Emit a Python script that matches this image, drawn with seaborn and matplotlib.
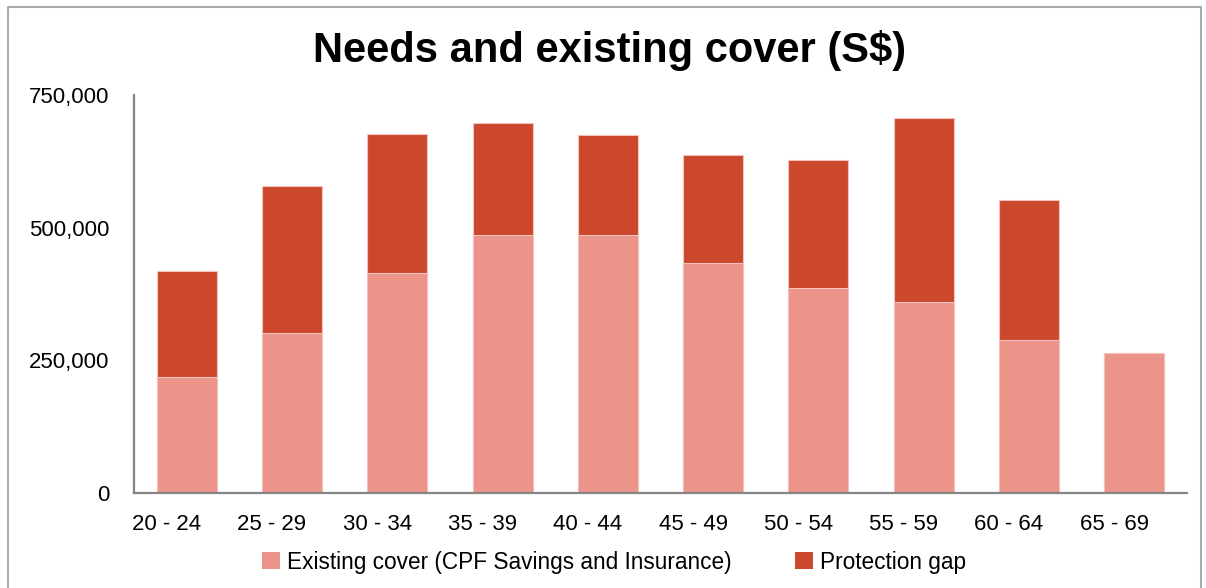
import matplotlib
matplotlib.use("Agg")
import matplotlib.pyplot as plt
import matplotlib.transforms as mtransforms
from matplotlib.patches import Patch
from matplotlib.lines import Line2D
from matplotlib.ticker import FuncFormatter
import pandas as pd
import seaborn as sns

# data
age_bands = ["20 - 24", "25 - 29", "30 - 34", "35 - 39", "40 - 44",
             "45 - 49", "50 - 54", "55 - 59", "60 - 64", "65 - 69"]
existing_cover = [218000, 301000, 414000, 487000, 487000,
                  434000, 386000, 360000, 289000, 263000]
protection_gap = [201000, 278000, 263000, 210000, 188000,
                  203000, 241000, 346000, 263000, 0]

df = pd.DataFrame({
    "age": age_bands,
    "existing": existing_cover,
    "gap": protection_gap,
})
df["total"] = df["existing"] + df["gap"]

c_exist = "#EC938A"
c_gap = "#CC482C"
edge = "#F4C2BC"

sns.set_style("white")
plt.rcParams["font.family"] = ["Liberation Sans", "DejaVu Sans"]
plt.rcParams["text.color"] = "black"

fig = plt.figure(figsize=(12.06, 5.88), dpi=100)
ax = fig.add_axes([134 / 1206, 1 - 493 / 588, (1187 - 134) / 1206, (493 - 95) / 588])

# stacked bars: full height in gap colour, then existing cover on top of it
sns.barplot(data=df, x="age", y="total", color=c_gap, width=0.57,
            edgecolor=edge, linewidth=0.8, saturation=1, ax=ax)
sns.barplot(data=df, x="age", y="existing", color=c_exist, width=0.57,
            edgecolor=edge, linewidth=0.8, saturation=1, ax=ax)

ax.set_xlim(-0.5, 9.5)
ax.set_ylim(0, 750000)
ax.set_yticks([0, 250000, 500000, 750000])
ax.yaxis.set_major_formatter(FuncFormatter(lambda v, p: f"{int(v):,}"))
ax.set_xlabel("")
ax.set_ylabel("")

for side in ["top", "right"]:
    ax.spines[side].set_visible(False)
for side in ["left", "bottom"]:
    ax.spines[side].set_color("#858585")
    ax.spines[side].set_linewidth(1.6)

ax.tick_params(axis="both", length=0, labelsize=16, colors="black")
ax.tick_params(axis="y", pad=18)
ax.tick_params(axis="x", pad=15)

# the x labels sit a little left of the bars in the original
shift = mtransforms.ScaledTranslation(-0.2, 0, fig.dpi_scale_trans)
for lbl in ax.get_xticklabels():
    lbl.set_transform(lbl.get_transform() + shift)

fig.text(610 / 1206, 1 - 62 / 588, "Needs and existing cover (S$)",
         ha="center", va="baseline", fontsize=30, fontweight="bold", color="black")

handles = [Patch(facecolor=c_exist, edgecolor="none"),
           Patch(facecolor=c_gap, edgecolor="none")]
leg = fig.legend(handles, ["Existing cover (CPF Savings and Insurance)", "Protection gap"],
                 loc="center", bbox_to_anchor=(614 / 1206, 1 - 562 / 588), ncol=2,
                 frameon=False, fontsize=16.3, handlelength=0.8, handleheight=0.8,
                 handletextpad=0.3, columnspacing=2.8)
for t in leg.get_texts():
    t.set_color("black")

# chart-area border (left, top, right)
xs = [8 / 1206, 8 / 1206, 1201 / 1206, 1201 / 1206]
ys = [0, 1 - 7 / 588, 1 - 7 / 588, 0]
fig.add_artist(Line2D(xs, ys, color="#ABABAB", linewidth=1.5,
                      transform=fig.transFigure))

fig.savefig("out.png", dpi=100)
plt.close(fig)
